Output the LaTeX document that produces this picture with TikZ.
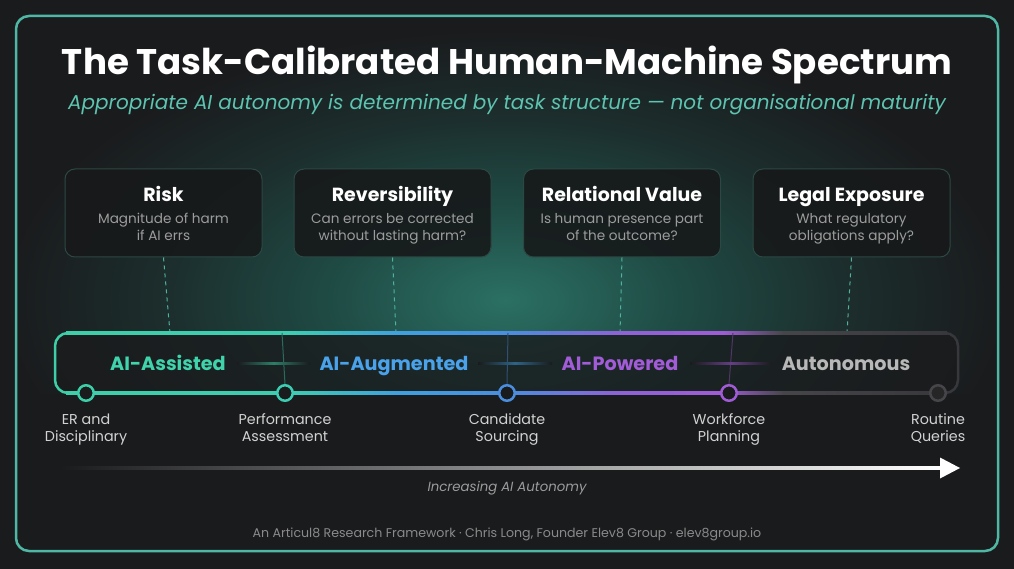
\documentclass[tikz,border=0pt]{standalone}
\usepackage{fontspec}
\setmainfont{Poppins}
\usetikzlibrary{calc}
\definecolor{bgc}{HTML}{1A1B1D}
\definecolor{framec}{HTML}{4FB8A4}
\definecolor{glowc}{HTML}{2B7063}
\definecolor{glowm}{HTML}{1F4A44}
\definecolor{glowo}{HTML}{1C2E2D}
\definecolor{subc}{HTML}{5CC4B0}
\definecolor{boxfill}{HTML}{17191A}
\definecolor{boxline}{HTML}{2C4843}
\definecolor{boxsubc}{HTML}{9C9C9C}
\definecolor{tA}{HTML}{3DCFA8}
\definecolor{tB}{HTML}{3CCDB2}
\definecolor{bA}{HTML}{3FA0E0}
\definecolor{bB}{HTML}{4A8EE0}
\definecolor{pA}{HTML}{8E62D8}
\definecolor{pB}{HTML}{A05CD6}
\definecolor{gA}{HTML}{46464A}
\definecolor{gB}{HTML}{38383C}
\definecolor{lblT}{HTML}{40D4AC}
\definecolor{lblB}{HTML}{4AA2EA}
\definecolor{lblP}{HTML}{A25CD8}
\definecolor{lblG}{HTML}{B8B8B8}
\definecolor{taskc}{HTML}{D2D2D2}
\definecolor{footc}{HTML}{8A8A8A}
\definecolor{dashc}{HTML}{4FB3A0}
\pgfdeclarehorizontalshading{barshade}{100bp}{color(0bp)=(tA); color(25bp)=(tA); color(37.7bp)=(tB); color(44bp)=(bA); color(50bp)=(bB); color(56.3bp)=(pA); color(62.3bp)=(pB); color(65.7bp)=(gA); color(75bp)=(gB); color(100bp)=(gB)}
\pgfdeclareradialshading{glowshade}{\pgfpoint{0bp}{0bp}}{color(0bp)=(glowc); color(9bp)=(glowm); color(17bp)=(glowo); color(25bp)=(bgc); color(50bp)=(bgc)}
\tikzset{
  txt/.style={inner sep=0pt, anchor=base},
  boxstyle/.style={draw=boxline, line width=1pt, fill=boxfill, fill opacity=0.9, rounded corners=10pt, minimum width=197pt, minimum height=88pt, inner sep=0pt},
  boxtitle/.style={txt, text=white, font=\fontsize{19}{22}\selectfont\bfseries},
  boxsub/.style={txt, text=boxsubc, font=\fontsize{13.6}{17}\selectfont},
  band/.style={txt, font=\fontsize{19.2}{23}\selectfont\bfseries},
  dot/.style={circle, draw=#1, line width=2.5pt, fill=bgc, minimum size=15.5pt, inner sep=0pt},
  task/.style={txt, text=taskc, font=\fontsize{14.3}{18}\selectfont},
  dashconn/.style={draw=dashc, line width=1pt, dash pattern=on 4pt off 4pt},
}
\begin{document}
\begin{tikzpicture}[x=1pt, y=-1pt]
\fill[bgc] (0,0) rectangle (1014,569);
\useasboundingbox (0,0) rectangle (1014,569);
% glow, above the bar only
\begin{scope}
\clip (0,0) rectangle (1014,393);
\shade[shading=glowshade] (505,300) ellipse [x radius=500pt, y radius=270pt];
\end{scope}
% frame
\draw[framec, line width=2.5pt, rounded corners=13pt] (16,16) rectangle (998,551);
% title
\node[txt, text=white, font=\fontsize{35.6}{40}\selectfont\bfseries] (title) at (507,75) {The Task-Calibrated Human-Machine Spectrum};
\node[txt, text=subc, font=\fontsize{20}{24}\selectfont\itshape] (subtitle) at (507,110) {Appropriate AI autonomy is determined by task structure — not organisational maturity};
% boxes
\node[boxstyle] (risk) at (163.5,213) {};
\node[boxtitle] (riskT) at (163.5,201.5) {Risk};
\node[boxsub] (riskS1) at (163.5,224) {Magnitude of harm};
\node[boxsub] (riskS2) at (163.5,240.5) {if AI errs};
\node[boxstyle] (rev) at (392.5,213) {};
\node[boxtitle] (revT) at (392.5,201.5) {Reversibility};
\node[boxsub] (revS1) at (392.5,224) {Can errors be corrected};
\node[boxsub] (revS2) at (392.5,240.5) {without lasting harm?};
\node[boxstyle] (rel) at (622,213) {};
\node[boxtitle] (relT) at (622,201.5) {Relational Value};
\node[boxsub] (relS1) at (622,224) {Is human presence part};
\node[boxsub] (relS2) at (622,240.5) {of the outcome?};
\node[boxstyle] (leg) at (851.5,213) {};
\node[boxtitle] (legT) at (851.5,201.5) {Legal Exposure};
\node[boxsub] (legS1) at (851.5,224) {What regulatory};
\node[boxsub] (legS2) at (851.5,240.5) {obligations apply?};
% bar anchors
\coordinate (b1) at (170,333);
\coordinate (b2) at (396,333);
\coordinate (b3) at (620,333);
\coordinate (b4) at (847,333);
\draw[dashconn] (risk.south) -- (b1);
\draw[dashconn] (rev.south) -- (b2);
\draw[dashconn] (rel.south) -- (b3);
\draw[dashconn] (leg.south) -- (b4);
% bar interior
\fill[bgc, opacity=0.78, rounded corners=14pt] (55,333) rectangle (958,393);
% bar edges
\shade[shading=barshade] (66,331.75) rectangle (947,334.25);
\shade[shading=barshade] (66,391.5) rectangle (947,394.5);
\draw[tA, line width=2.5pt, rounded corners=13pt] (68,333) -- (55,333) -- (55,393) -- (68,393);
\draw[gB, line width=2.5pt, rounded corners=13pt] (945,333) -- (958,333) -- (958,393) -- (945,393);
% dots
\node[dot=tA] (c1) at (86,393) {};
\node[dot=tB] (c2) at (285,393) {};
\node[dot=bB] (c3) at (507,393) {};
\node[dot=pB] (c4) at (729,393) {};
\node[dot=gA, fill=black!85] (c5) at (938,393) {};
% dividers
\coordinate (d2) at (282,333);
\coordinate (d3) at (508,333);
\coordinate (d4) at (733,333);
\draw[tB!45!bgc, line width=1pt] (d2) -- (c2.north);
\draw[bB!45!bgc, line width=1pt] (d3) -- (c3.north);
\draw[pB!40!bgc, line width=1pt] (d4) -- (c4.north);
% band connectors
\shade[left color=bgc, right color=bgc, middle color=tA!55!bgc] (237,362.5) rectangle (310,364);
\shade[left color=bgc, right color=bgc, middle color=bA!55!bgc] (478,362.5) rectangle (552,364);
\shade[left color=bgc, right color=bgc, middle color=pB!55!bgc] (690,362.5) rectangle (772,364);
% band labels
\node[band, text=lblT] (l1) at (168,370) {AI-Assisted};
\node[band, text=lblB] (l2) at (394,370) {AI-Augmented};
\node[band, text=lblP] (l3) at (620,370) {AI-Powered};
\node[band, text=lblG] (l4) at (846,370) {Autonomous};
% tasks
\node[task] (t1a) at (86,424.3) {ER and};
\node[task] (t1b) at (86,441.7) {Disciplinary};
\node[task] (t2a) at (285,424.3) {Performance};
\node[task] (t2b) at (285,441.7) {Assessment};
\node[task] (t3a) at (507,424.3) {Candidate};
\node[task] (t3b) at (507,441.7) {Sourcing};
\node[task] (t4a) at (729,424.3) {Workforce};
\node[task] (t4b) at (729,441.7) {Planning};
\node[task] (t5a) at (938,424.3) {Routine};
\node[task] (t5b) at (938,441.7) {Queries};
% arrow
\coordinate (a0) at (60,468);
\coordinate (a1) at (960,468);
\shade[left color=bgc, right color=white] (60,466.5) rectangle (942,469.5);
\fill[white] (940,457.5) -- (a1) -- (940,478.5) -- cycle;
\node[txt, text=boxsubc, font=\fontsize{13.3}{16}\selectfont\itshape] (axis) at (507,491) {Increasing AI Autonomy};
% footer
\node[txt, text=footc, font=\fontsize{12.6}{15}\selectfont] (foot) at (507,537.5) {An Articul8 Research Framework · Chris Long, Founder Elev8 Group · elev8group.io};
\end{tikzpicture}
\end{document}
